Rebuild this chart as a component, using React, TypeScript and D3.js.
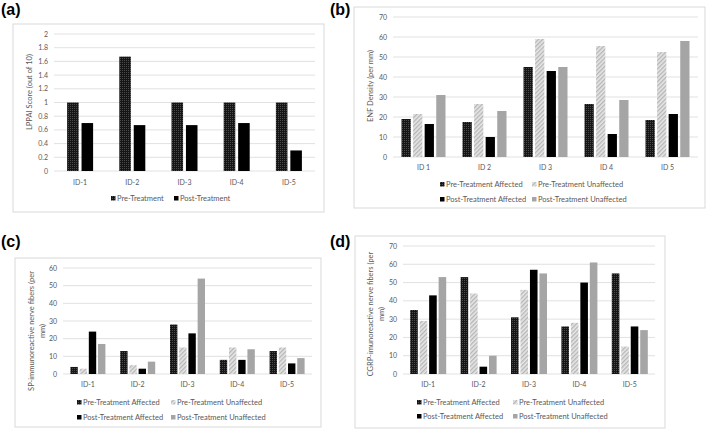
import * as d3 from "d3";

// categories
const idsDash = ["ID-1", "ID-2", "ID-3", "ID-4", "ID-5"];
const idsSpace = ["ID 1", "ID 2", "ID 3", "ID 4", "ID 5"];

// (a) LPPAI score
const lppaiPre = [1, 1.67, 1, 1, 1];
const lppaiPost = [0.7, 0.67, 0.67, 0.7, 0.3];

// (b) ENF density
const enfPreAff = [19, 17.5, 45, 26.5, 18.5];
const enfPreUnaff = [21.5, 26.5, 59, 55.5, 52.5];
const enfPostAff = [16.5, 10, 43, 11.5, 21.5];
const enfPostUnaff = [31, 23, 45, 28.5, 58];

// (c) SP-immunoreactive fibers
const spPreAff = [4, 13, 28, 8, 13];
const spPreUnaff = [3, 5, 15, 15, 15];
const spPostAff = [24, 3, 23, 8, 6];
const spPostUnaff = [17, 7, 54, 14, 9];

// (d) CGRP-immunoreactive fibers
const cgrpPreAff = [35, 53, 31, 26, 55];
const cgrpPreUnaff = [29, 44, 46, 28, 15];
const cgrpPostAff = [43, 4, 57, 50, 26];
const cgrpPostUnaff = [53, 10, 55, 61, 24];

const legend2 = ["Pre-Treatment", "Post-Treatment"];
const legend4 = [
  "Pre-Treatment Affected",
  "Pre-Treatment Unaffected",
  "Post-Treatment Affected",
  "Post-Treatment Unaffected",
];

const FILLS = ["url(#preAff)", "url(#preUnaff)", "#000", "#a5a5a5"];
const FILLS2 = ["url(#preAff)", "#000"];
const GRID = "#d9d9d9";
const TXT = "#595959";
const FONT = "Lato, 'Open Sans', sans-serif";

function Panel({
  frame, plot, max, step, cats, series, fills, groupW, title, titleX, titleY,
  catY, legend,
}) {
  const y = d3.scaleLinear([0, max], [plot.y1, plot.y0]);
  const x0 = d3.scaleBand(cats, [plot.x0, plot.x1]);
  const x1 = d3.scaleBand(d3.range(series.length), [-groupW / 2, groupW / 2]).paddingInner(0.2);
  const ticks = d3.range(0, max + step / 2, step);
  const fmt = (t) => +t.toFixed(2) + "";
  return (
    <g>
      <rect x={frame.x} y={frame.y} width={frame.w} height={frame.h} fill="#fff" stroke={GRID} strokeWidth={1} />
      {ticks.map((t, i) => (
        <g key={i}>
          <line x1={plot.x0} x2={plot.x1} y1={y(t)} y2={y(t)} stroke={GRID} strokeWidth={0.8} />
          <text x={plot.x0 - 6} y={y(t) + 2.5} textAnchor="end" fontSize={7} fill={TXT} fontFamily={FONT}>{fmt(t)}</text>
        </g>
      ))}
      {cats.map((c, ci) => (
        <g key={c}>
          {series.map((s, si) => (
            <rect
              key={si}
              x={x0(c) + x0.bandwidth() / 2 + x1(si)}
              y={y(s[ci])}
              width={x1.bandwidth()}
              height={y(0) - y(s[ci])}
              fill={fills[si]}
            />
          ))}
          <text x={x0(c) + x0.bandwidth() / 2} y={catY} textAnchor="middle" fontSize={7} fill={TXT} fontFamily={FONT}>{c}</text>
        </g>
      ))}
      {title.map((line, i) => (
        <text
          key={i}
          transform={`translate(${titleX + i * 10.5},${titleY}) rotate(-90)`}
          textAnchor="middle"
          fontSize={7.5}
          fill={TXT}
          fontFamily={FONT}
        >{line}</text>
      ))}
      {legend.map((l, i) => (
        <g key={i}>
          <rect x={l.x} y={l.y - 5} width={4.5} height={4.5} fill={fills[i]} />
          <text x={l.x + 6} y={l.y} fontSize={7.5} fill={TXT} fontFamily={FONT}>{l.label}</text>
        </g>
      ))}
    </g>
  );
}

function PanelLabel({ x, y, text }) {
  return (
    <text x={x} y={y} fontSize={16} fontWeight="bold" fontFamily="'Liberation Sans', Arial, sans-serif" fill="#000">{text}</text>
  );
}

export default function App() {
  return (
    <svg width={709} height={429} style={{ position: "absolute", left: 0, top: 0, background: "#fff" }}>
      <defs>
        <pattern id="preAff" width={2} height={2} patternUnits="userSpaceOnUse">
          <rect width={2} height={2} fill="#151515" />
          <rect width={1} height={1} fill="#4a4a4a" />
        </pattern>
        <pattern id="preUnaff" width={3} height={3} patternUnits="userSpaceOnUse" patternTransform="rotate(45)">
          <rect width={3} height={3} fill="#e6e6e6" />
          <rect width={1.3} height={3} fill="#b5b5b5" />
        </pattern>
      </defs>

      <PanelLabel x={1} y={15} text="(a)" />
      <Panel
        frame={{ x: 13, y: 24, w: 311, h: 188 }}
        plot={{ x0: 54, x1: 315, y0: 34, y1: 171 }}
        max={2}
        step={0.2}
        cats={idsDash}
        series={[lppaiPre, lppaiPost]}
        fills={FILLS2}
        groupW={26}
        title={["LPPAI Score (out of 10)"]}
        titleX={32}
        titleY={92}
        catY={185}
        legend={[
          { x: 111, y: 201, label: legend2[0] },
          { x: 174, y: 201, label: legend2[1] },
        ]}
      />

      <PanelLabel x={330} y={15} text="(b)" />
      <Panel
        frame={{ x: 354, y: 7, w: 351, h: 201 }}
        plot={{ x0: 393, x1: 698, y0: 17, y1: 157 }}
        max={70}
        step={10}
        cats={idsSpace}
        series={[enfPreAff, enfPreUnaff, enfPostAff, enfPostUnaff]}
        fills={FILLS}
        groupW={44}
        title={["ENF Density (per mm)"]}
        titleX={373}
        titleY={86}
        catY={170}
        legend={[
          { x: 440, y: 187, label: legend4[0] },
          { x: 532, y: 187, label: legend4[1] },
          { x: 440, y: 202, label: legend4[2] },
          { x: 532, y: 202, label: legend4[3] },
        ]}
      />

      <PanelLabel x={1} y={247} text="(c)" />
      <Panel
        frame={{ x: 15, y: 258, w: 306, h: 169 }}
        plot={{ x0: 63, x1: 312, y0: 268, y1: 374 }}
        max={60}
        step={10}
        cats={idsDash}
        series={[spPreAff, spPreUnaff, spPostAff, spPostUnaff]}
        fills={FILLS}
        groupW={35}
        title={["SP-immunoreactive nerve fibers (per", "mm)"]}
        titleX={34}
        titleY={331}
        catY={387}
        legend={[
          { x: 77, y: 405, label: legend4[0] },
          { x: 171, y: 405, label: legend4[1] },
          { x: 77, y: 420, label: legend4[2] },
          { x: 171, y: 420, label: legend4[3] },
        ]}
      />

      <PanelLabel x={330} y={247} text="(d)" />
      <Panel
        frame={{ x: 355, y: 236, w: 310, h: 192 }}
        plot={{ x0: 403, x1: 655, y0: 246, y1: 374 }}
        max={70}
        step={10}
        cats={idsDash}
        series={[cgrpPreAff, cgrpPreUnaff, cgrpPostAff, cgrpPostUnaff]}
        fills={FILLS}
        groupW={36}
        title={["CGRP-imunoreactive nerve fibers (per", "mm)"]}
        titleX={373}
        titleY={314}
        catY={387}
        legend={[
          { x: 417, y: 405, label: legend4[0] },
          { x: 513, y: 405, label: legend4[1] },
          { x: 417, y: 419, label: legend4[2] },
          { x: 513, y: 419, label: legend4[3] },
        ]}
      />
    </svg>
  );
}
